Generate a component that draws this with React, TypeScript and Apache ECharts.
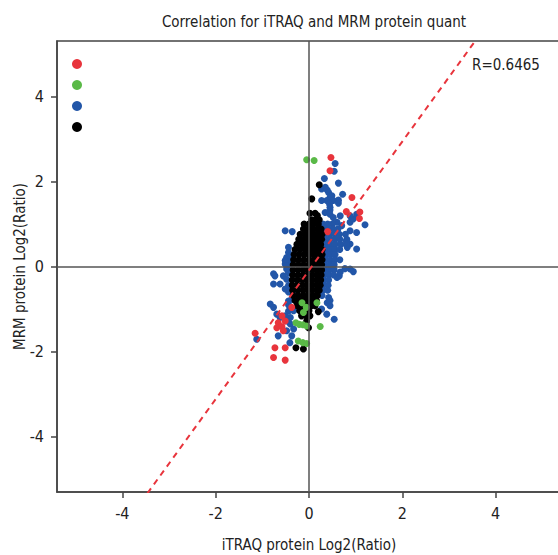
import React, { useEffect, useRef } from "react";
import * as echarts from "echarts";

const titleText = "Correlation for iTRAQ and MRM protein quant";
const xAxisName = "iTRAQ protein Log2(Ratio)";
const yAxisName = "MRM protein Log2(Ratio)";
const rText = "R=0.6465";
const tickValues = [-4, -2, 0, 2, 4];
const groupNames = ["Group 1", "Group 2", "Group 3", "Group 4"];
const groupColors = ["#e8343c", "#5ab947", "#2256a8", "#000000"];

const redPoints = [
  [0.47, 2.56], [0.45, 2.25], [0.92, 1.62], [0.8, 1.29], [1.09, 1.28], [1.08, 1.13], [0.4, 0.82],
  [-1.155, -1.57], [-0.66, -1.32], [-0.51, -1.28], [-0.69, -1.44], [-0.58, -1.41], [-0.55, -1.51],
  [-0.73, -1.91], [-0.51, -1.91], [-0.76, -2.14], [-0.51, -2.2], [-0.37, -0.96], [-0.58, -1.16],
];

const greenPoints = [
  [-0.05, 2.51], [0.11, 2.49], [-0.15, -0.85], [-0.06, -0.96], [0.17, -0.85], [-0.12, -1.08],
  [-0.28, -1.32], [-0.21, -1.36], [-0.13, -1.37], [-0.05, -1.4], [0.24, -1.41],
  [-0.23, -1.75], [-0.13, -1.79], [-0.05, -1.81],
];

const bluePoints = [
  [0.56, 2.42], [0.54, 2.24], [0.63, 1.96], [0.33, 2.07], [0.27, 1.82], [0.35, 1.86], [0.39, 1.8],
  [0.42, 1.74], [0.49, 1.66], [0.45, 1.62], [0.38, 1.55], [0.52, 1.55], [0.63, 1.56], [0.72, 1.7],
  [0.63, 1.49], [0.44, 1.47], [0.45, 1.39], [0.27, 1.55], [0.45, 1.33],
  [0.345, 1.27], [0.45, 1.23], [0.52, 1.15], [0.67, 1.19], [0.6, 1.04], [0.7, 0.96], [0.88, 1.04],
  [1.2, 0.98], [0.95, 1.12], [0.88, 1.19], [1.02, 1.23], [0.88, 0.84], [1.02, 0.8], [0.81, 0.64],
  [1.02, 0.41], [0.88, 0.53], [0.8, 0.6], [0.82, 0.45],
  [0.3, 1.0], [0.4, 1.0], [0.5, 1.0],
  [0.32, 0.88], [0.42, 0.88], [0.52, 0.88], [0.62, 0.88],
  [0.35, 0.76], [0.45, 0.76], [0.55, 0.76], [0.65, 0.76], [0.78, 0.76],
  [0.36, 0.64], [0.46, 0.64], [0.56, 0.64], [0.66, 0.64],
  [0.36, 0.52], [0.46, 0.52], [0.56, 0.52], [0.68, 0.52], [0.8, 0.52],
  [0.36, 0.4], [0.46, 0.4], [0.56, 0.4], [0.66, 0.4],
  [0.36, 0.28], [0.46, 0.28], [0.56, 0.28],
  [0.36, 0.16], [0.46, 0.16], [0.56, 0.16], [0.66, 0.16],
  [0.34, 0.04], [0.44, 0.04], [0.54, 0.04],
  [0.34, -0.08], [0.44, -0.08], [0.54, -0.08],
  [0.33, -0.2], [0.43, -0.2], [0.53, -0.2],
  [0.32, -0.32], [0.42, -0.32],
  [0.31, -0.44], [0.41, -0.44],
  [0.3, -0.56], [0.4, -0.56],
  [0.28, -0.68],
  [0.88, -0.06], [0.95, -0.12], [0.6, -0.26], [0.65, -0.22], [0.67, -0.13], [0.77, -0.05],
  [0.42, -0.73], [0.39, -0.85], [0.45, -0.92], [0.38, -1.12], [0.54, -1.24], [0.27, -1.0], [0.45, -0.8],
  [-0.51, 0.84], [-0.36, 0.82],
  [-0.44, 0.45], [-0.44, 0.33], [-0.48, 0.21], [-0.41, 0.13], [-0.51, 0.06], [-0.37, -0.02],
  [-0.48, -0.06], [-0.51, 0.14], [-0.48, 0.02], [-0.4, 0.25],
  [-0.44, -0.15], [-0.44, -0.6], [-0.44, -0.9], [-0.44, -1.05], [-0.4, -1.2], [-0.4, -1.35],
  [-0.73, -0.22], [-0.55, -0.22], [-0.48, -0.3], [-0.62, -0.41], [-0.76, -0.41], [-0.44, -0.45],
  [-0.51, -0.53], [-0.41, -0.57], [-0.33, -0.65], [-0.37, -0.77], [-0.76, -0.17],
  [-0.83, -0.88], [-0.76, -0.96], [-0.69, -1.12], [-0.62, -1.2], [-0.51, -1.16], [-0.48, -1.28],
  [-0.41, -0.96], [-0.33, -1.04], [-0.44, -0.81], [-0.48, -1.51], [-0.66, -1.63], [-0.37, -1.63],
  [-0.41, -1.79], [-1.12, -1.71], [-0.33, -1.47],
];

const blackPoints = [
  [0.22, 1.92], [0.06, 1.59], [-0.105, 1.0], [-0.28, -1.91], [-0.12, -1.94], [-0.01, -1.44], [0.2, -1.06],
  [0.02, 1.25], [0.13, 1.25], [0.18, 1.2],
  [0.06, 1.1], [0.15, 1.1], [0.22, 1.1],
  [0.0, 1.0], [0.1, 1.0], [0.2, 1.0],
  [-0.12, 0.88], [-0.02, 0.88], [0.08, 0.88], [0.18, 0.88], [0.26, 0.88],
  [-0.19, 0.76], [-0.08, 0.76], [0.02, 0.76], [0.12, 0.76], [0.22, 0.76], [0.28, 0.76],
  [-0.22, 0.64], [-0.12, 0.64], [-0.02, 0.64], [0.08, 0.64], [0.18, 0.64], [0.27, 0.64],
  [-0.26, 0.52], [-0.15, 0.52], [-0.05, 0.52], [0.05, 0.52], [0.15, 0.52], [0.25, 0.52],
  [-0.3, 0.4], [-0.19, 0.4], [-0.08, 0.4], [0.02, 0.4], [0.12, 0.4], [0.22, 0.4], [0.28, 0.4],
  [-0.32, 0.28], [-0.21, 0.28], [-0.1, 0.28], [0.0, 0.28], [0.1, 0.28], [0.2, 0.28], [0.28, 0.28],
  [-0.33, 0.16], [-0.22, 0.16], [-0.11, 0.16], [0.0, 0.16], [0.1, 0.16], [0.2, 0.16], [0.28, 0.16],
  [-0.34, 0.04], [-0.23, 0.04], [-0.12, 0.04], [-0.01, 0.04], [0.09, 0.04], [0.19, 0.04], [0.27, 0.04],
  [-0.34, -0.08], [-0.23, -0.08], [-0.12, -0.08], [-0.02, -0.08], [0.08, -0.08], [0.18, -0.08], [0.27, -0.08],
  [-0.35, -0.2], [-0.24, -0.2], [-0.13, -0.2], [-0.03, -0.2], [0.07, -0.2], [0.17, -0.2], [0.26, -0.2],
  [-0.36, -0.32], [-0.25, -0.32], [-0.14, -0.32], [-0.04, -0.32], [0.06, -0.32], [0.16, -0.32], [0.25, -0.32],
  [-0.36, -0.44], [-0.25, -0.44], [-0.14, -0.44], [-0.04, -0.44], [0.06, -0.44], [0.16, -0.44], [0.24, -0.44],
  [-0.35, -0.56], [-0.24, -0.56], [-0.13, -0.56], [-0.03, -0.56], [0.07, -0.56], [0.17, -0.56], [0.22, -0.56],
  [-0.34, -0.68], [-0.23, -0.68], [-0.12, -0.68], [-0.02, -0.68], [0.08, -0.68], [0.18, -0.68],
  [-0.3, -0.8], [-0.2, -0.8], [-0.1, -0.8], [0.0, -0.8], [0.1, -0.8], [0.16, -0.8],
  [-0.25, -0.92], [-0.15, -0.92], [-0.05, -0.92], [0.05, -0.92], [0.13, -0.92],
  [-0.2, -1.04], [-0.1, -1.04], [0.0, -1.04],
  [-0.16, -1.16], [-0.06, -1.16], [0.02, -1.16],
  [-0.05, -1.28],
];

const fitLine = [
  [-3.6, -5.54],
  [3.6, 5.36],
];

const FONT = "'Liberation Sans Narrow', 'DejaVu Sans Condensed', 'Roboto Condensed', 'Noto Sans', sans-serif";

export default function App() {
  const ref = useRef<HTMLDivElement>(null);
  useEffect(() => {
    if (!ref.current) return;
    const chart = echarts.init(ref.current, undefined, { renderer: "svg" });
    const scatter = (name: string, data: number[][], color: string, z: number) => ({
      name,
      type: "scatter",
      data,
      symbol: "circle",
      symbolSize: 7,
      itemStyle: { color, opacity: 1 },
      z,
    });
    chart.setOption({
      animation: false,
      backgroundColor: "#ffffff",
      title: {
        text: titleText,
        left: 309,
        textAlign: "center",
        top: 9,
        textStyle: { fontFamily: FONT, fontSize: 15, fontWeight: "normal", color: "#222" },
      },
      legend: {
        data: groupNames,
        orient: "vertical",
        left: 67,
        top: 54,
        itemWidth: 10,
        itemHeight: 10,
        itemGap: 11,
        icon: "circle",
        formatter: () => "",
        selectedMode: false,
      },
      grid: {
        left: 57,
        right: -3,
        top: 41,
        bottom: 63,
        show: true,
        outerBoundsMode: "none",
        containLabel: false,
        borderColor: "#444",
        borderWidth: 1.5,
        backgroundColor: "transparent",
      },
      xAxis: {
        type: "value",
        min: -5.4,
        max: 5.4,
        name: xAxisName,
        nameLocation: "middle",
        nameGap: 45,
        nameMoveOverlap: false,
        nameTextStyle: { fontFamily: FONT, fontSize: 15, color: "#222" },
        axisLine: { show: true, onZero: false, lineStyle: { color: "#444", width: 1.5 } },
        axisTick: { show: true, length: 6, customValues: tickValues, lineStyle: { color: "#444", width: 1.5 } },
        axisLabel: { customValues: tickValues, margin: 13, fontFamily: FONT, fontSize: 16, color: "#222" },
        splitLine: { show: false },
      },
      yAxis: {
        type: "value",
        min: -5.3,
        max: 5.3,
        name: yAxisName,
        nameLocation: "middle",
        nameGap: 30,
        nameMoveOverlap: false,
        nameTextStyle: { fontFamily: FONT, fontSize: 15, color: "#222" },
        axisLine: { show: true, onZero: false, lineStyle: { color: "#444", width: 1.5 } },
        axisTick: { show: true, length: 6, customValues: tickValues, lineStyle: { color: "#444", width: 1.5 } },
        axisLabel: { customValues: tickValues, margin: 13, fontFamily: FONT, fontSize: 16, color: "#222" },
        splitLine: { show: false },
      },
      graphic: [
        {
          type: "text",
          left: 472,
          top: 57,
          style: { text: rText, font: `15px ${FONT}`, fill: "#222" },
        },
      ],
      series: [
        {
          name: "zero",
          type: "line",
          data: [],
          silent: true,
          z: 1,
          markLine: {
            silent: true,
            symbol: ["none", "none"],
            label: { show: false },
            lineStyle: { color: "#555", width: 1.5, type: "solid" },
            data: [{ xAxis: 0 }, { yAxis: 0 }],
          },
        },
        scatter(groupNames[2], bluePoints, groupColors[2], 2),
        scatter(groupNames[3], blackPoints, groupColors[3], 3),
        scatter(groupNames[1], greenPoints, groupColors[1], 4),
        scatter(groupNames[0], redPoints, groupColors[0], 5),
        {
          name: "fit",
          type: "line",
          data: fitLine,
          symbol: "none",
          clip: true,
          silent: true,
          z: 6,
          lineStyle: { color: "#e8343c", width: 2, type: [6, 5] },
        },
      ],
    });
    return () => chart.dispose();
  }, []);
  return <div ref={ref} style={{ position: "fixed", left: 0, top: 0, width: 558, height: 555 }} />;
}
